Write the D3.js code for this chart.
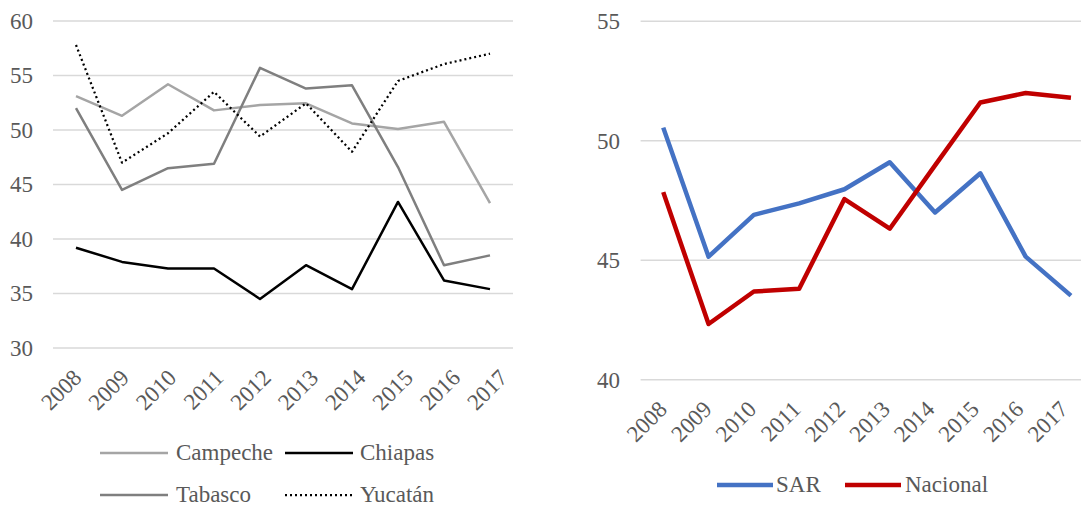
<!DOCTYPE html>
<html>
<head>
<meta charset="utf-8">
<script src="https://cdn.jsdelivr.net/npm/d3@7"></script>
<style>
  html, body { margin: 0; padding: 0; background: #fff; }
  svg { display: block; }
  text { font-family: "Liberation Serif", "DejaVu Serif", serif; fill: #595959; }
</style>
</head>
<body>
<svg id="chart" width="1081" height="506" font-family="Liberation Serif, serif"></svg>
<script>
const years = ["2008","2009","2010","2011","2012","2013","2014","2015","2016","2017"];

const campeche = [53.1, 51.3, 54.2, 51.8, 52.3, 52.45, 50.6, 50.1, 50.75, 43.3];
const chiapas  = [39.2, 37.9, 37.3, 37.3, 34.5, 37.6, 35.4, 43.4, 36.2, 35.4];
const tabasco  = [52.0, 44.5, 46.5, 46.9, 55.7, 53.8, 54.1, 46.6, 37.6, 38.5];
const yucatan  = [57.8, 47.0, 49.7, 53.5, 49.4, 52.45, 48.0, 54.5, 56.05, 57.0];

const sar      = [50.55, 45.15, 46.9, 47.38, 47.97, 49.1, 47.0, 48.64, 45.15, 43.52];
const nacional = [47.85, 42.33, 43.69, 43.81, 47.56, 46.32, 48.97, 51.6, 52.0, 51.8];

const leftTicks  = [30, 35, 40, 45, 50, 55, 60];
const rightTicks = [40, 45, 50, 55];

const svg = d3.select("#chart");
const FONT = 23;

function panel(cfg) {
  const g = svg.append("g");
  const x = d3.scaleBand().domain(years).range([cfg.x0, cfg.x1]);
  const xl = d3.scalePoint().domain(years).range(cfg.labelRange);
  const y = d3.scaleLinear().domain(cfg.domain).range([cfg.yBottom, cfg.yTop]);
  const right = Math.min(cfg.x1, cfg.clip);

  // gridlines
  g.selectAll("line.grid").data(cfg.ticks).enter().append("line")
    .attr("x1", cfg.x0).attr("x2", right)
    .attr("y1", d => y(d)).attr("y2", d => y(d))
    .attr("stroke", "#d9d9d9").attr("stroke-width", 1.5);

  // y tick labels
  g.selectAll("text.yt").data(cfg.ticks).enter().append("text")
    .attr("x", cfg.yLabelX).attr("y", d => y(d))
    .attr("dy", "0.34em")
    .attr("text-anchor", "end")
    .attr("font-size", FONT)
    .text(d => d);

  // x tick labels
  g.selectAll("text.xt").data(years).enter().append("text")
    .attr("transform", d => `translate(${xl(d)},${cfg.yBottom + 31}) rotate(-45)`)
    .attr("text-anchor", "end")
    .attr("font-size", FONT)
    .text(d => d);

  const line = d3.line().x((d, i) => x(years[i]) + x.bandwidth() / 2).y(d => y(d));

  cfg.series.forEach(s => {
    g.append("path").datum(s.values)
      .attr("d", line)
      .attr("fill", "none")
      .attr("stroke", s.color)
      .attr("stroke-width", s.width)
      .attr("stroke-dasharray", s.dash || null)
      .attr("stroke-linejoin", "round");
  });

  // legend
  cfg.series.forEach(s => {
    g.append("line")
      .attr("x1", s.lx).attr("x2", s.lx + cfg.legLen)
      .attr("y1", s.ly).attr("y2", s.ly)
      .attr("stroke", s.color).attr("stroke-width", s.width)
      .attr("stroke-dasharray", s.dash || null);
    g.append("text")
      .attr("x", s.tx).attr("y", s.ly).attr("dy", "0.32em")
      .attr("font-size", 23)
      .text(s.name);
  });
}

panel({
  x0: 53, x1: 513, clip: 1081, labelRange: [83, 509],
  domain: [30, 60], yBottom: 348, yTop: 21,
  ticks: leftTicks, yLabelX: 33, legLen: 68,
  series: [
    { name: "Campeche", values: campeche, color: "#a5a5a5", width: 2.5, lx: 100, ly: 453, tx: 176 },
    { name: "Chiapas",  values: chiapas,  color: "#000000", width: 2.5, lx: 285, ly: 453, tx: 360 },
    { name: "Tabasco",  values: tabasco,  color: "#7f7f7f", width: 2.5, lx: 100, ly: 495, tx: 176 },
    { name: "Yucatán",  values: yucatan,  color: "#000000", width: 2.25, dash: "2,3", lx: 285, ly: 495, tx: 360 }
  ]
});

panel({
  x0: 640.6, x1: 1093.6, clip: 1081, labelRange: [668.5, 1069.5],
  domain: [40, 55], yBottom: 379.7, yTop: 21.3,
  ticks: rightTicks, yLabelX: 620, legLen: 56,
  series: [
    { name: "SAR",      values: sar,      color: "#4472c4", width: 4.5, lx: 717, ly: 485, tx: 776 },
    { name: "Nacional", values: nacional, color: "#c00000", width: 4.5, lx: 845, ly: 485, tx: 905 }
  ]
});
</script>
</body>
</html>
